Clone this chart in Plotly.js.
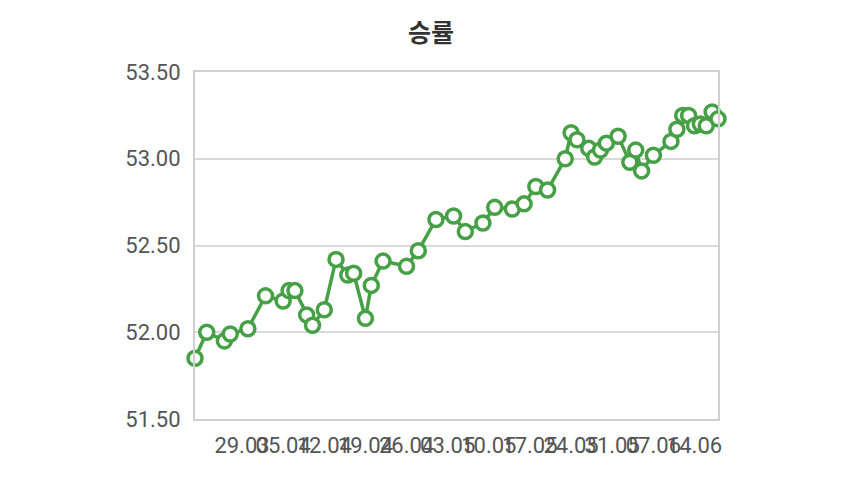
<!DOCTYPE html>
<html>
<head>
<meta charset="utf-8">
<script src="https://cdn.plot.ly/plotly-3.0.1.min.js"></script>
<style>html,body{margin:0;padding:0;background:#fff;}#chart{width:850px;height:488px;}</style>
</head>
<body>
<div id="chart"></div>
<script>
const dates = ["2021-03-21","2021-03-23","2021-03-26","2021-03-27","2021-03-30","2021-04-02","2021-04-05","2021-04-06","2021-04-07","2021-04-09",
"2021-04-10","2021-04-12","2021-04-14","2021-04-16","2021-04-17","2021-04-19","2021-04-20","2021-04-22","2021-04-26","2021-04-28",
"2021-05-01","2021-05-04","2021-05-06","2021-05-09","2021-05-11","2021-05-14","2021-05-16","2021-05-18","2021-05-20","2021-05-23",
"2021-05-24","2021-05-25","2021-05-27","2021-05-28","2021-05-29","2021-05-30","2021-06-01","2021-06-03","2021-06-04","2021-06-05",
"2021-06-07","2021-06-10","2021-06-11","2021-06-12","2021-06-13","2021-06-14","2021-06-15","2021-06-16","2021-06-17","2021-06-18"];
const winRate = [51.85,52.00,51.95,51.99,52.02,52.21,52.18,52.24,52.24,52.10,
52.04,52.13,52.42,52.33,52.34,52.08,52.27,52.41,52.38,52.47,
52.65,52.67,52.58,52.63,52.72,52.71,52.74,52.84,52.82,53.00,
53.15,53.11,53.06,53.01,53.05,53.09,53.13,52.98,53.05,52.93,
53.02,53.10,53.17,53.25,53.25,53.19,53.20,53.19,53.27,53.23];
const tickDates = ["2021-03-29","2021-04-05","2021-04-12","2021-04-19","2021-04-26","2021-05-03","2021-05-10","2021-05-17","2021-05-24","2021-05-31","2021-06-07","2021-06-14"];
const tickLabels = ["29.03","05.04","12.04","19.04","26.04","03.05","10.05","17.05","24.05","31.05","07.06","14.06"];
const yTicks = [51.5,52.0,52.5,53.0,53.5];

const green = "#46a046";
const trace = {
  x: dates, y: winRate, type: "scatter", mode: "lines+markers",
  line: {color: green, width: 3.5},
  marker: {symbol: "circle", size: 14, color: "#ffffff", line: {color: green, width: 3.5}},
  cliponaxis: false, hoverinfo: "x+y"
};
const layout = {
  width: 850, height: 488,
  margin: {l: 195, r: 132, t: 71.5, b: 68.5},
  paper_bgcolor: "#ffffff", plot_bgcolor: "#ffffff",
  showlegend: false,
  title: {text: "<b>승률</b>", x: 0.507, xanchor: "center", y: 0.932, yanchor: "middle",
    font: {family: "Noto Sans CJK KR, Roboto, sans-serif", size: 25, color: "#333333"}},
  font: {family: "Roboto, sans-serif", size: 22, color: "#555555"},
  xaxis: {
    type: "date", range: [dates[0], dates[dates.length-1]],
    tickmode: "array", tickvals: tickDates, ticktext: tickLabels, tickangle: 0,
    showgrid: false, zeroline: false, showline: true, mirror: true,
    linecolor: "#d0d0d0", linewidth: 2, ticks: "", ticklabelstandoff: 6,
    tickfont: {family: "Roboto, sans-serif", size: 22, color: "#555555"}
  },
  yaxis: {
    range: [51.5, 53.5], tickmode: "array", tickvals: yTicks, tickformat: ".2f",
    showgrid: true, gridcolor: "#dadada", gridwidth: 2, zeroline: false,
    showline: true, mirror: true, linecolor: "#d0d0d0", linewidth: 2, ticks: "",
    ticklabelstandoff: 8,
    tickfont: {family: "Roboto, sans-serif", size: 22, color: "#555555"}
  }
};
Plotly.newPlot("chart", [trace], layout, {displayModeBar: false, staticPlot: true});
</script>
</body>
</html>
